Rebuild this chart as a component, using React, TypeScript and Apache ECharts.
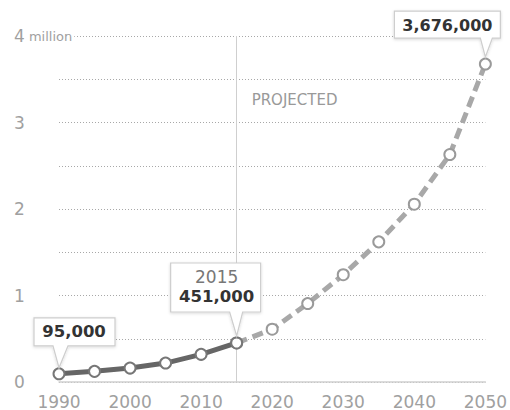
import React, { useEffect, useRef } from 'react';
import * as echarts from 'echarts';

const histYears = [1990, 1995, 2000, 2005, 2010, 2015];
const histValues = [0.095, 0.123, 0.161, 0.219, 0.32, 0.451];
const projYears = [2015, 2020, 2025, 2030, 2035, 2040, 2045, 2050];
const projValues = [0.451, 0.61, 0.907, 1.24, 1.62, 2.055, 2.63, 3.676];
const xTickLabels = ['1990', '2000', '2010', '2020', '2030', '2040', '2050'];
const yTickLabels = ['0', '1', '2', '3', '4'];
const projectedLabel = 'PROJECTED';
const yUnit = 'million';

const FONT = '"DejaVu Sans", sans-serif';

function fmt(v: number): string {
  return Math.round(v * 1e6).toLocaleString('en-US');
}

export default function App() {
  const ref = useRef<HTMLDivElement>(null);

  useEffect(() => {
    if (!ref.current) return;
    const chart = echarts.init(ref.current, undefined, { renderer: 'svg' });
    const hist = histYears.map((y, i) => [y, histValues[i]]);
    const proj = projYears.map((y, i) => [y, projValues[i]]);
    const xMin = Number(xTickLabels[0]);
    const xMax = Number(xTickLabels[xTickLabels.length - 1]);
    const yMax = Number(yTickLabels[yTickLabels.length - 1]);

    chart.setOption({
      animation: false,
      grid: { left: 59, right: 19, top: 36, bottom: 27, containLabel: false },
      xAxis: {
        type: 'value',
        min: xMin,
        max: xMax,
        interval: 10,
        axisLine: { show: true, lineStyle: { color: '#cfcfcf', width: 1.5 } },
        axisTick: { show: false },
        splitLine: { show: false },
        axisLabel: {
          color: '#a0a0a0',
          fontFamily: FONT,
          fontSize: 17,
          margin: 11,
          formatter: (v: number) => (xTickLabels.includes(String(v)) ? String(v) : ''),
        },
      },
      yAxis: {
        type: 'value',
        min: 0,
        max: yMax,
        interval: 0.5,
        axisLine: { show: false },
        axisTick: { show: false },
        splitLine: {
          show: true,
          lineStyle: { color: '#a8a8a8', width: 1, type: [1, 2] },
        },
        axisLabel: {
          align: 'left',
          margin: 45,
          color: '#a0a0a0',
          fontFamily: FONT,
          formatter: (v: number) => {
            if (!Number.isInteger(v)) return '';
            const s = String(v);
            if (!yTickLabels.includes(s)) return '';
            if (v === yMax) return '{a|' + s + '}{b| ' + yUnit + '}';
            return '{a|' + s + '}';
          },
          rich: {
            a: { fontSize: 17, color: '#a0a0a0', fontFamily: FONT },
            b: {
              fontSize: 13,
              color: '#a0a0a0',
              fontFamily: FONT,
              backgroundColor: '#fff',
              padding: [2, 2, 2, 0],
            },
          },
        },
      },
      series: [
        {
          type: 'line',
          data: proj,
          z: 3,
          symbol: 'circle',
          symbolSize: 11,
          lineStyle: { color: '#a8a8a8', width: 5, type: [11, 6] },
          itemStyle: { color: '#fff', borderColor: '#9a9a9a', borderWidth: 2 },
          markLine: {
            silent: true,
            symbol: 'none',
            label: { show: false },
            lineStyle: { color: '#cfcfcf', width: 1, type: 'solid' },
            data: [{ xAxis: histYears[histYears.length - 1] }],
            z: 1,
          },
        },
        {
          type: 'line',
          data: hist,
          z: 4,
          symbol: 'circle',
          symbolSize: 11,
          lineStyle: { color: '#666', width: 5 },
          itemStyle: { color: '#fff', borderColor: '#777', borderWidth: 2 },
        },
      ],
    });

    const toPx = (x: number, y: number) =>
      chart.convertToPixel({ gridIndex: 0 }, [x, y]) as number[];

    const callout = (
      px: number,
      py: number,
      box: { l: number; r: number; t: number; b: number },
      base: [number, number],
      tipGap: number,
      texts: any[]
    ) => {
      const L = px + box.l, R = px + box.r, T = py + box.t, B = py + box.b;
      const pts = [
        [L, T], [R, T], [R, B], [px + base[1], B], [px, py - tipGap], [px + base[0], B], [L, B],
      ];
      return [
        {
          type: 'polygon',
          z: 100,
          shape: { points: pts },
          style: {
            fill: '#fff',
            stroke: '#cdcdcd',
            lineWidth: 1.2,
            shadowBlur: 3,
            shadowColor: 'rgba(0,0,0,0.15)',
            shadowOffsetY: 1,
          },
        },
        ...texts.map((t) => ({
          type: 'text',
          z: 101,
          x: px + t.dx,
          y: py + t.dy,
          style: {
            text: t.text,
            fill: t.color,
            font: t.font,
            align: 'center',
            verticalAlign: 'middle',
          },
        })),
      ];
    };

    const [p0x, p0y] = toPx(histYears[0], histValues[0]);
    const last = histYears.length - 1;
    const [p1x, p1y] = toPx(histYears[last], histValues[last]);
    const pl = projYears.length - 1;
    const [p2x, p2y] = toPx(projYears[pl], projValues[pl]);
    const [, topY] = toPx(xMin, yMax);

    const graphic: any[] = [
      {
        type: 'text',
        z: 50,
        x: p1x + 15,
        y: topY + 64,
        style: {
          text: projectedLabel,
          fill: '#999',
          font: '15px ' + FONT,
          align: 'left',
          verticalAlign: 'middle',
        },
      },
      ...callout(p0x, p0y, { l: -25, r: 56, t: -56, b: -28 }, [-6, 9], 6, [
        { text: fmt(histValues[0]), dx: 15, dy: -42, color: '#333', font: 'bold 16.5px ' + FONT },
      ]),
      ...callout(p1x, p1y, { l: -66, r: 24, t: -80, b: -31 }, [-7, 6], 7, [
        { text: String(histYears[last]), dx: -20, dy: -66, color: '#777', font: '17px ' + FONT },
        { text: fmt(histValues[last]), dx: -20, dy: -46, color: '#333', font: 'bold 16.5px ' + FONT },
      ]),
      ...callout(p2x, p2y, { l: -91, r: 15, t: -53, b: -26 }, [-5, 7], 7, [
        { text: fmt(projValues[pl]), dx: -38, dy: -39, color: '#333', font: 'bold 16px ' + FONT },
      ]),
    ];

    chart.setOption({ graphic });

    return () => chart.dispose();
  }, []);

  return (
    <div
      ref={ref}
      style={{ position: 'fixed', left: 0, top: 0, width: 510, height: 410, background: '#fff' }}
    />
  );
}
